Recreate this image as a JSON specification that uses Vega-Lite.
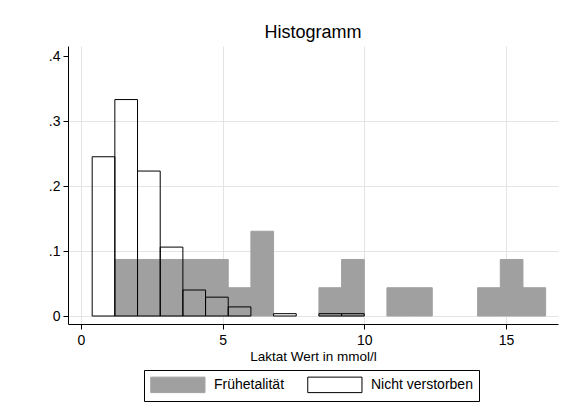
{
  "$schema": "https://vega.github.io/schema/vega-lite/v6.json",
  "width": 490,
  "height": 278,
  "autosize": {"type": "none"},
  "padding": {"left": 68, "top": 46, "right": 6, "bottom": 79},
  "background": "white",
  "config": {
    "view": {"stroke": null},
    "font": "Liberation Sans",
    "axis": {
      "domainColor": "black",
      "domainWidth": 1,
      "tickColor": "black",
      "tickWidth": 1,
      "tickSize": 5,
      "labelColor": "black",
      "labelFont": "Liberation Sans",
      "labelFontSize": 14,
      "gridColor": "#e4e4e4",
      "gridWidth": 1,
      "titleColor": "black",
      "titleFont": "Liberation Sans",
      "titleFontWeight": "normal"
    },
    "legend": {
      "labelFont": "Liberation Sans",
      "labelFontSize": 14,
      "labelColor": "black"
    }
  },
  "title": {
    "text": "Histogramm",
    "font": "Liberation Sans",
    "fontSize": 18,
    "fontWeight": "normal",
    "color": "black",
    "anchor": "middle",
    "offset": 4
  },
  "data": {
    "values": [
      {"gruppe": "Frühetalität", "von": 1.2, "bis": 2.0, "anteil": 0.087},
      {"gruppe": "Frühetalität", "von": 2.0, "bis": 2.8, "anteil": 0.087},
      {"gruppe": "Frühetalität", "von": 2.8, "bis": 3.6, "anteil": 0.087},
      {"gruppe": "Frühetalität", "von": 3.6, "bis": 4.4, "anteil": 0.087},
      {"gruppe": "Frühetalität", "von": 4.4, "bis": 5.2, "anteil": 0.087},
      {"gruppe": "Frühetalität", "von": 5.2, "bis": 6.0, "anteil": 0.0435},
      {"gruppe": "Frühetalität", "von": 6.0, "bis": 6.8, "anteil": 0.1304},
      {"gruppe": "Frühetalität", "von": 8.4, "bis": 9.2, "anteil": 0.0435},
      {"gruppe": "Frühetalität", "von": 9.2, "bis": 10.0, "anteil": 0.087},
      {"gruppe": "Frühetalität", "von": 10.8, "bis": 11.6, "anteil": 0.0435},
      {"gruppe": "Frühetalität", "von": 11.6, "bis": 12.4, "anteil": 0.0435},
      {"gruppe": "Frühetalität", "von": 14.0, "bis": 14.8, "anteil": 0.0435},
      {"gruppe": "Frühetalität", "von": 14.8, "bis": 15.6, "anteil": 0.087},
      {"gruppe": "Frühetalität", "von": 15.6, "bis": 16.4, "anteil": 0.0435},
      {"gruppe": "Nicht verstorben", "von": 0.4, "bis": 1.2, "anteil": 0.245},
      {"gruppe": "Nicht verstorben", "von": 1.2, "bis": 2.0, "anteil": 0.333},
      {"gruppe": "Nicht verstorben", "von": 2.0, "bis": 2.8, "anteil": 0.223},
      {"gruppe": "Nicht verstorben", "von": 2.8, "bis": 3.6, "anteil": 0.106},
      {"gruppe": "Nicht verstorben", "von": 3.6, "bis": 4.4, "anteil": 0.04},
      {"gruppe": "Nicht verstorben", "von": 4.4, "bis": 5.2, "anteil": 0.029},
      {"gruppe": "Nicht verstorben", "von": 5.2, "bis": 6.0, "anteil": 0.014},
      {"gruppe": "Nicht verstorben", "von": 6.8, "bis": 7.6, "anteil": 0.0036},
      {"gruppe": "Nicht verstorben", "von": 8.4, "bis": 9.2, "anteil": 0.0036},
      {"gruppe": "Nicht verstorben", "von": 9.2, "bis": 10.0, "anteil": 0.0036}
    ]
  },
  "mark": {"type": "bar", "strokeWidth": 1, "orient": "vertical"},
  "encoding": {
    "x": {
      "field": "von",
      "type": "quantitative",
      "scale": {"domain": [-0.277, 16.66], "nice": false, "zero": false},
      "axis": {
        "values": [0, 5, 10, 15],
        "grid": true,
        "labelPadding": 4,
        "title": "Laktat Wert in mmol/l",
        "titleFontSize": 13.5,
        "titlePadding": 2
      }
    },
    "x2": {"field": "bis"},
    "y": {
      "field": "anteil",
      "type": "quantitative",
      "scale": {"domain": [-0.0123, 0.4154], "nice": false, "zero": false},
      "axis": {
        "values": [0, 0.1, 0.2, 0.3, 0.4],
        "grid": true,
        "gridOpacity": {"condition": {"test": "datum.value > 0.35", "value": 0}, "value": 1},
        "labelExpr": "datum.value == 0 ? '0' : substring(format(datum.value, '.1f'), 1)",
        "labelPadding": 3,
        "title": null
      }
    },
    "y2": {"datum": 0},
    "fill": {
      "field": "gruppe",
      "type": "nominal",
      "scale": {"domain": ["Frühetalität", "Nicht verstorben"], "range": ["#a0a0a0", "transparent"]},
      "legend": {
        "title": null,
        "orient": "none",
        "legendX": 76,
        "legendY": 324,
        "direction": "horizontal",
        "padding": 6,
        "strokeColor": "black",
        "fillColor": "white",
        "symbolType": "M-1,-1H6V1H-1Z",
        "symbolSize": 240,
        "symbolStrokeWidth": 1,
        "labelOffset": 47,
        "columnPadding": 20
      }
    },
    "stroke": {
      "field": "gruppe",
      "type": "nominal",
      "scale": {"domain": ["Frühetalität", "Nicht verstorben"], "range": ["#a0a0a0", "black"]},
      "legend": {
        "title": null,
        "orient": "none",
        "legendX": 76,
        "legendY": 324,
        "direction": "horizontal",
        "padding": 6,
        "strokeColor": "black",
        "fillColor": "white",
        "symbolType": "M-1,-1H6V1H-1Z",
        "symbolSize": 240,
        "symbolStrokeWidth": 1,
        "labelOffset": 47,
        "columnPadding": 20
      }
    }
  }
}
